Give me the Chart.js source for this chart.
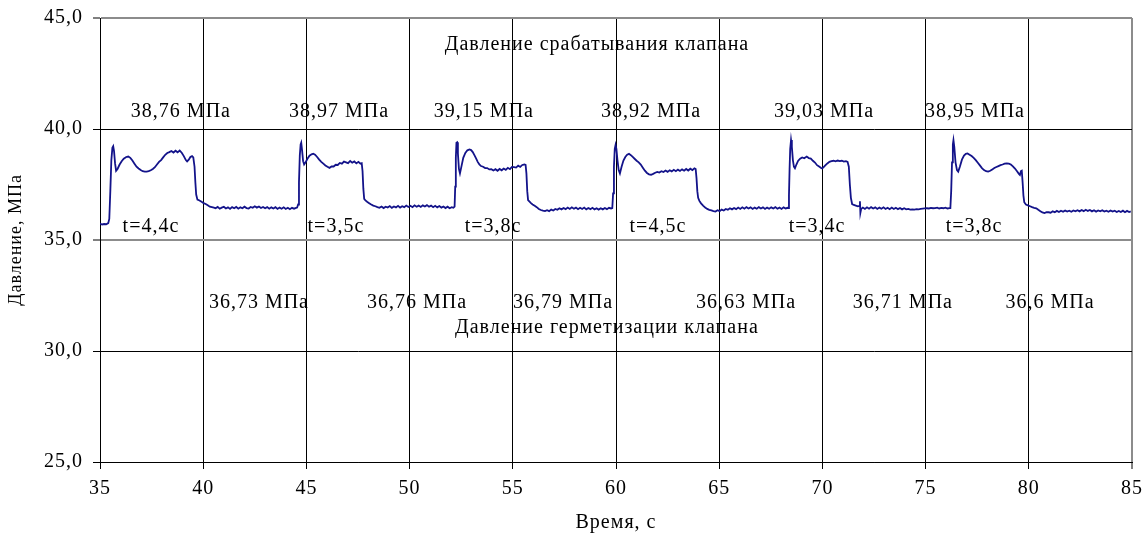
<!DOCTYPE html>
<html lang="ru">
<head>
<meta charset="utf-8">
<title>Давление срабатывания и герметизации клапана</title>
<script src="https://cdn.jsdelivr.net/npm/chart.js@4/dist/chart.umd.min.js"></script>
<style>
  html, body { margin: 0; padding: 0; background: #fff; }
  #wrap { width: 1148px; height: 537px; position: relative; }
</style>
</head>
<body>
<div id="wrap"><canvas id="chart"></canvas></div>
<script>
// Pressure record of the valve test: [time, s ; pressure, MPa], one array per opening cycle
const cycle1 = [
  [35.00,35.74],[35.10,35.70],[35.20,35.72],[35.30,35.71],[35.40,35.76],[35.45,35.95],[35.50,37.20],[35.55,38.60],
  [35.60,39.15],[35.64,39.22],[35.68,39.00],[35.73,38.45],[35.78,38.12],[35.85,38.20],[35.95,38.40],[36.05,38.55],
  [36.15,38.66],[36.27,38.74],[36.37,38.76],[36.47,38.70],[36.57,38.58],[36.67,38.44],[36.77,38.30],[36.87,38.22],
  [36.97,38.15],[37.07,38.10],[37.17,38.08],[37.26,38.08],[37.36,38.10],[37.46,38.14],[37.56,38.20],[37.66,38.28],
  [37.76,38.40],[37.86,38.52],[37.96,38.60],[38.06,38.72],[38.16,38.84],[38.26,38.92],[38.36,38.96],[38.46,39.01],
  [38.56,38.94],[38.66,39.02],[38.76,38.95],[38.86,39.03],[38.96,38.93],[39.06,38.78],[39.16,38.60],[39.22,38.54],
  [39.30,38.62],[39.38,38.74],[39.46,38.78],[39.52,38.72],[39.58,38.30],[39.62,37.60],[39.66,37.05],[39.72,36.82],
  [39.82,36.78],[39.92,36.72],[40.02,36.66],[40.12,36.62],[40.22,36.56],[40.32,36.50],[40.42,36.48],[40.52,36.46],
  [40.60,36.43],[40.70,36.49],[40.80,36.41],[40.90,36.46],[41.00,36.50],[41.10,36.42],[41.20,36.47],[41.30,36.40],
  [41.40,36.48],[41.50,36.43],[41.60,36.49],[41.70,36.41],[41.80,36.47],[41.90,36.43],[42.00,36.50],[42.10,36.44],
  [42.20,36.42],[42.30,36.49],[42.40,36.45],[42.50,36.52],[42.60,36.46],[42.70,36.51],[42.80,36.44],[42.90,36.49],
  [43.00,36.43],[43.10,36.48],[43.20,36.41],[43.30,36.47],[43.40,36.42],[43.50,36.48],[43.60,36.40],[43.70,36.46],
  [43.80,36.41],[43.90,36.47],[44.00,36.40],[44.10,36.45],[44.20,36.39],[44.30,36.45],[44.40,36.41],[44.50,36.45]
];
const cycle2 = [
  [44.55,36.46],[44.60,36.60],[44.64,37.60],[44.68,38.80],[44.72,39.30],[44.75,39.38],[44.79,39.05],[44.84,38.55],
  [44.89,38.40],[44.96,38.50],[45.05,38.66],[45.15,38.80],[45.25,38.86],[45.33,38.89],[45.42,38.84],[45.52,38.74],
  [45.62,38.62],[45.72,38.52],[45.82,38.44],[45.92,38.36],[46.02,38.30],[46.12,38.25],[46.22,38.31],[46.32,38.31],
  [46.42,38.39],[46.52,38.38],[46.62,38.47],[46.72,38.44],[46.82,38.53],[46.92,38.50],[47.02,38.46],[47.12,38.56],
  [47.22,38.48],[47.32,38.54],[47.42,38.45],[47.52,38.52],[47.62,38.44],[47.68,38.46],[47.72,38.10],[47.76,37.30],
  [47.80,36.85],[47.86,36.78],[47.94,36.72],[48.04,36.66],[48.14,36.60],[48.24,36.55],[48.34,36.52],[48.44,36.48],
  [48.54,36.45],[48.64,36.51],[48.74,36.44],[48.84,36.50],[48.94,36.46],[49.04,36.53],[49.14,36.45],[49.24,36.51],
  [49.34,36.47],[49.44,36.54],[49.54,36.46],[49.64,36.52],[49.74,36.48],[49.84,36.55],[49.94,36.49],[50.04,36.54],
  [50.14,36.48],[50.24,36.56],[50.34,36.50],[50.44,36.55],[50.54,36.49],[50.64,36.56],[50.74,36.51],[50.84,36.57],
  [50.94,36.50],[51.04,36.55],[51.14,36.48],[51.24,36.54],[51.34,36.47],[51.44,36.53],[51.54,36.46],[51.64,36.51],
  [51.74,36.44],[51.84,36.50],[51.94,36.43],[52.04,36.48],[52.12,36.45]
];
const cycle3 = [
  [52.18,36.50],[52.21,37.40],[52.24,38.70],[52.27,39.38],[52.30,39.40],[52.34,38.90],[52.39,38.20],[52.44,38.00],
  [52.52,38.35],[52.60,38.70],[52.70,38.92],[52.80,39.04],[52.90,39.08],[52.98,39.05],[53.06,38.96],[53.14,38.82],
  [53.22,38.68],[53.30,38.52],[53.38,38.40],[53.46,38.33],[53.56,38.30],[53.66,38.24],[53.76,38.24],[53.86,38.18],
  [53.96,38.19],[54.06,38.13],[54.16,38.19],[54.26,38.12],[54.36,38.20],[54.46,38.14],[54.56,38.22],[54.66,38.16],
  [54.76,38.25],[54.86,38.19],[54.96,38.29],[55.06,38.28],[55.16,38.26],[55.26,38.35],[55.36,38.29],[55.46,38.38],
  [55.56,38.40],[55.62,38.38],[55.66,38.00],[55.70,37.20],[55.74,36.80],[55.80,36.74],[55.88,36.66],[55.96,36.60],
  [56.06,36.54],[56.16,36.48],[56.26,36.40],[56.36,36.35],[56.46,36.32],[56.56,36.30],[56.66,36.34],[56.76,36.30],
  [56.86,36.37],[56.96,36.33],[57.06,36.40],[57.16,36.36],[57.26,36.43],[57.36,36.38],[57.46,36.44],[57.56,36.39],
  [57.66,36.46],[57.76,36.40],[57.86,36.47],[57.96,36.41],[58.06,36.46],[58.16,36.39],[58.26,36.45],[58.36,36.40],
  [58.46,36.46],[58.56,36.38],[58.66,36.44],[58.76,36.39],[58.86,36.45],[58.96,36.38],[59.06,36.43],[59.16,36.37],
  [59.26,36.43],[59.36,36.38],[59.46,36.44],[59.56,36.39],[59.66,36.45],[59.76,36.42]
];
const cycle4 = [
  [59.82,36.44],[59.86,37.10],[59.90,38.30],[59.94,39.10],[59.98,39.28],[60.02,39.10],[60.07,38.60],[60.13,38.15],
  [60.19,38.00],[60.27,38.30],[60.36,38.58],[60.45,38.74],[60.54,38.84],[60.63,38.88],[60.72,38.82],[60.81,38.74],
  [60.90,38.66],[61.00,38.57],[61.10,38.50],[61.20,38.40],[61.30,38.26],[61.40,38.12],[61.50,38.02],[61.60,37.96],
  [61.70,37.94],[61.80,37.98],[61.90,38.03],[62.00,38.07],[62.10,38.04],[62.20,38.10],[62.30,38.06],[62.40,38.13],
  [62.50,38.07],[62.60,38.14],[62.70,38.09],[62.80,38.16],[62.90,38.10],[63.00,38.17],[63.10,38.11],[63.20,38.18],
  [63.30,38.12],[63.40,38.20],[63.50,38.13],[63.60,38.21],[63.70,38.15],[63.80,38.23],[63.86,38.20],[63.90,37.80],
  [63.94,37.20],[63.98,36.90],[64.04,36.76],[64.12,36.65],[64.22,36.55],[64.32,36.46],[64.42,36.40],[64.52,36.36],
  [64.62,36.33],[64.72,36.30],[64.82,36.28],[64.92,36.34],[65.02,36.30],[65.12,36.37],[65.22,36.33],[65.32,36.40],
  [65.42,36.36],[65.52,36.43],[65.62,36.38],[65.72,36.44],[65.82,36.39],[65.92,36.46],[66.02,36.40],[66.12,36.47],
  [66.22,36.41],[66.32,36.48],[66.42,36.42],[66.52,36.47],[66.62,36.40],[66.72,36.46],[66.82,36.41],[66.92,36.48],
  [67.02,36.42],[67.12,36.47],[67.22,36.40],[67.32,36.46],[67.42,36.41],[67.52,36.47],[67.62,36.42],[67.72,36.48],
  [67.82,36.41],[67.92,36.46],[68.02,36.40],[68.12,36.47],[68.22,36.42],[68.32,36.45]
];
const cycle5 = [
  [68.35,36.44],[68.38,37.00],[68.41,38.20],[68.44,39.10],[68.48,39.50],[68.52,39.20],[68.57,38.60],[68.62,38.30],
  [68.67,38.23],[68.74,38.40],[68.82,38.56],[68.92,38.66],[69.02,38.72],[69.12,38.68],[69.24,38.76],[69.34,38.69],
  [69.44,38.67],[69.54,38.57],[69.64,38.49],[69.74,38.37],[69.84,38.31],[69.94,38.24],[69.99,38.22],[70.06,38.28],
  [70.14,38.36],[70.24,38.45],[70.34,38.52],[70.44,38.55],[70.54,38.57],[70.64,38.54],[70.74,38.58],[70.84,38.55],
  [70.94,38.57],[71.04,38.53],[71.14,38.55],[71.22,38.52],[71.28,38.30],[71.33,37.50],[71.38,36.90],[71.44,36.62],
  [71.52,36.58],[71.62,36.55],[71.72,36.52],[71.80,36.54],[71.82,36.74],[71.84,36.22],[71.88,36.40],[71.96,36.46],
  [72.06,36.40],[72.16,36.47],[72.26,36.41],[72.36,36.48],[72.46,36.42],[72.56,36.47],[72.66,36.40],[72.76,36.46],
  [72.86,36.41],[72.96,36.47],[73.06,36.40],[73.16,36.45],[73.26,36.39],[73.36,36.46],[73.46,36.40],[73.56,36.45],
  [73.66,36.39],[73.76,36.44],[73.86,36.38],[73.96,36.43],[74.06,36.38],[74.16,36.40],[74.26,36.37],[74.36,36.38],
  [74.46,36.37],[74.56,36.39],[74.66,36.38],[74.76,36.40],[74.86,36.41],[74.96,36.42],[75.06,36.43],[75.16,36.42],
  [75.26,36.45],[75.36,36.43],[75.46,36.44],[75.56,36.46],[75.66,36.42],[75.76,36.45],[75.86,36.43],[75.96,36.46],
  [76.06,36.42],[76.16,36.44]
];
const cycle6 = [
  [76.20,36.44],[76.24,37.20],[76.28,38.50],[76.32,39.30],[76.35,39.50],[76.39,39.20],[76.45,38.50],[76.52,38.15],
  [76.58,38.08],[76.66,38.30],[76.76,38.62],[76.86,38.80],[76.95,38.88],[77.03,38.90],[77.13,38.84],[77.23,38.78],
  [77.33,38.70],[77.43,38.60],[77.53,38.48],[77.63,38.36],[77.73,38.24],[77.83,38.15],[77.93,38.10],[78.03,38.08],
  [78.13,38.12],[78.23,38.18],[78.33,38.24],[78.43,38.29],[78.53,38.33],[78.63,38.37],[78.73,38.40],[78.83,38.44],
  [78.93,38.45],[79.03,38.44],[79.13,38.40],[79.23,38.32],[79.33,38.22],[79.43,38.10],[79.52,37.98],[79.57,37.93],
  [79.62,38.10],[79.66,38.12],[79.70,37.60],[79.74,37.00],[79.78,36.70],[79.86,36.60],[79.96,36.56],[80.06,36.52],
  [80.16,36.48],[80.26,36.45],[80.36,36.43],[80.46,36.36],[80.56,36.30],[80.66,36.24],[80.76,36.21],[80.86,36.25],
  [80.96,36.25],[81.06,36.23],[81.16,36.29],[81.26,36.25],[81.36,36.31],[81.46,36.26],[81.56,36.32],[81.66,36.27],
  [81.76,36.33],[81.86,36.28],[81.96,36.32],[82.06,36.27],[82.16,36.33],[82.26,36.29],[82.36,36.34],[82.46,36.29],
  [82.56,36.35],[82.66,36.30],[82.76,36.36],[82.86,36.31],[82.96,36.35],[83.06,36.29],[83.16,36.34],[83.26,36.28],
  [83.36,36.33],[83.46,36.29],[83.56,36.34],[83.66,36.28],[83.76,36.32],[83.86,36.27],[83.96,36.33],[84.06,36.28],
  [84.16,36.32],[84.26,36.26],[84.36,36.31],[84.46,36.26],[84.56,36.32],[84.66,36.25],[84.76,36.31],[84.86,36.26],
  [84.94,36.29]
];

// Axis ranges and ticks
const timeTicks = [35, 40, 45, 50, 55, 60, 65, 70, 75, 80, 85];
const pressureTicks = [25, 30, 35, 40, 45];

// Annotation texts
const setPressureTitle = 'Давление срабатывания клапана';
const sealPressureTitle = 'Давление герметизации клапана';
const setPressureLabels = ['38,76 МПа', '38,97 МПа', '39,15 МПа', '38,92 МПа', '39,03 МПа', '38,95 МПа'];
const openTimeLabels = ['t=4,4с', 't=3,5с', 't=3,8с', 't=4,5с', 't=3,4с', 't=3,8с'];
const sealPressureLabels = ['36,73 МПа', '36,76 МПа', '36,79 МПа', '36,63 МПа', '36,71 МПа', '36,6 МПа'];

// Where the annotation rows sit, in axis units (seconds, MPa)
const annotationLayout = {
  setPressureTitle: { x: 59.08, y: 43.78 },
  sealPressureTitle: { x: 59.56, y: 31.04 },
  setPressureRow: { xs: [38.92, 46.58, 53.60, 61.70, 70.08, 77.39], y: 40.77 },
  openTimeRow: { xs: [37.47, 46.43, 54.04, 62.03, 69.74, 77.35], y: 35.59 },
  sealPressureRow: { xs: [42.70, 50.36, 57.43, 66.30, 73.90, 81.03], y: 32.16 }
};

const FONT_FAMILY = "'Liberation Serif', 'Times New Roman', serif";
const GRAY = '#8c8c8c';

const trace = [cycle1, cycle2, cycle3, cycle4, cycle5, cycle6]
  .flat()
  .map(([t, p]) => ({ x: t, y: p }));

const fmtComma = v => v.toFixed(1).replace('.', ',');

// Text is slightly tracked out, like the original office-chart rendering
const textStyle = {
  id: 'textStyle',
  beforeDraw(chart) {
    chart.ctx.letterSpacing = '1px';
  }
};

const annotations = {
  id: 'annotations',
  afterDraw(chart) {
    const { ctx, scales: { x, y } } = chart;
    ctx.save();
    ctx.letterSpacing = '1px';
    ctx.fillStyle = '#000';
    ctx.font = '20px ' + FONT_FAMILY;
    ctx.textAlign = 'center';
    ctx.textBaseline = 'middle';
    const put = (text, tx, ty) => ctx.fillText(text, x.getPixelForValue(tx), y.getPixelForValue(ty));
    const L = annotationLayout;
    put(setPressureTitle, L.setPressureTitle.x, L.setPressureTitle.y);
    put(sealPressureTitle, L.sealPressureTitle.x, L.sealPressureTitle.y);
    setPressureLabels.forEach((s, i) => put(s, L.setPressureRow.xs[i], L.setPressureRow.y));
    openTimeLabels.forEach((s, i) => put(s, L.openTimeRow.xs[i], L.openTimeRow.y));
    sealPressureLabels.forEach((s, i) => put(s, L.sealPressureRow.xs[i], L.sealPressureRow.y));
    ctx.restore();
  }
};

new Chart(document.getElementById('chart'), {
  type: 'scatter',
  data: {
    datasets: [{
      data: trace,
      showLine: true,
      borderColor: '#13138a',
      borderWidth: 1.8,
      pointRadius: 0,
      pointHoverRadius: 0,
      tension: 0,
      fill: false
    }]
  },
  options: {
    responsive: true,
    maintainAspectRatio: false,
    animation: false,
    events: [],
    layout: { padding: { top: 18, right: 16, bottom: 0, left: 0 } },
    plugins: {
      legend: { display: false },
      tooltip: { enabled: false },
      title: { display: false }
    },
    scales: {
      x: {
        type: 'linear',
        min: timeTicks[0],
        max: timeTicks[timeTicks.length - 1],
        afterBuildTicks: s => { s.ticks = timeTicks.map(v => ({ value: v })); },
        afterFit: s => { s.height = 75; s.paddingLeft = 0; s.paddingRight = 0; },
        ticks: {
          color: '#000',
          font: { family: FONT_FAMILY, size: 20 },
          padding: 8,
          maxRotation: 0,
          callback: v => String(v)
        },
        grid: {
          color: c => (c.tick && c.tick.value === 85 ? GRAY : '#000'),
          lineWidth: c => (c.tick && c.tick.value === 85 ? 2 : 1),
          tickColor: '#000',
          tickWidth: 1,
          tickLength: 7,
          drawTicks: true
        },
        border: { color: '#000', width: 1 },
        title: {
          display: true,
          text: 'Время, с',
          color: '#000',
          font: { family: FONT_FAMILY, size: 20 },
          padding: { top: 0, bottom: 2 }
        }
      },
      y: {
        type: 'linear',
        min: pressureTicks[0],
        max: pressureTicks[pressureTicks.length - 1],
        afterBuildTicks: s => { s.ticks = pressureTicks.map(v => ({ value: v })); },
        afterFit: s => { s.width = 100; s.paddingTop = 0; s.paddingBottom = 0; },
        ticks: {
          color: '#000',
          font: { family: FONT_FAMILY, size: 20 },
          padding: 10,
          callback: v => fmtComma(v)
        },
        grid: {
          color: c => (c.tick && (c.tick.value === 35 || c.tick.value === 45) ? GRAY : '#000'),
          lineWidth: c => (c.tick && (c.tick.value === 35 || c.tick.value === 45) ? 2 : 1),
          tickColor: '#000',
          tickWidth: 1,
          tickLength: 7,
          drawTicks: true
        },
        border: { color: '#000', width: 1 },
        title: {
          display: true,
          text: 'Давление, МПа',
          color: '#000',
          font: { family: FONT_FAMILY, size: 18 },
          padding: { top: 5, bottom: 0 }
        }
      }
    }
  },
  plugins: [textStyle, annotations]
});
</script>
</body>
</html>
